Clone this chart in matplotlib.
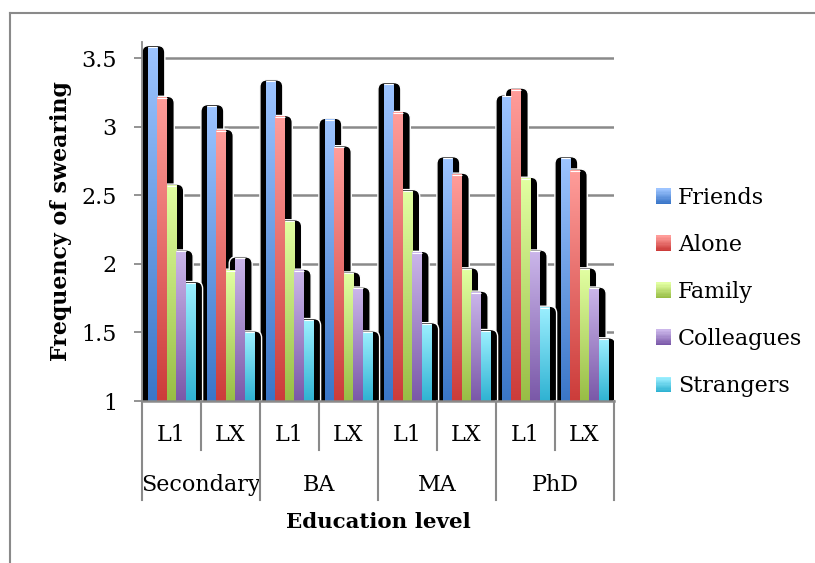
import numpy as np
import matplotlib
matplotlib.use("Agg")
import matplotlib.pyplot as plt
from matplotlib.patches import FancyBboxPatch, Rectangle
from matplotlib.colors import LinearSegmentedColormap
from matplotlib.legend_handler import HandlerBase
from matplotlib.lines import Line2D
import matplotlib.transforms as mtransforms

# ---- data ----
levels = ["Secondary", "BA", "MA", "PhD"]
langs = ["L1", "LX"]
series = ["Friends", "Alone", "Family", "Colleagues", "Strangers"]

friends    = [3.58, 3.15, 3.33, 3.05, 3.31, 2.77, 3.22, 2.77]
alone      = [3.21, 2.97, 3.07, 2.85, 3.10, 2.65, 3.27, 2.68]
family     = [2.57, 1.95, 2.31, 1.93, 2.53, 1.96, 2.62, 1.96]
colleagues = [2.09, 2.04, 1.95, 1.82, 2.08, 1.79, 2.09, 1.82]
strangers  = [1.86, 1.50, 1.59, 1.50, 1.56, 1.51, 1.68, 1.45]
values = [friends, alone, family, colleagues, strangers]

yticks = [1, 1.5, 2, 2.5, 3, 3.5]
ytick_labels = ["1", "1.5", "2", "2.5", "3", "3.5"]

# gradient colours (top, bottom) per series
grad_top = ["#9dc4ff", "#ff9d9a", "#e2ffa2", "#cbb6ea", "#9cefff"]
grad_bot = ["#3a76c8", "#cc3c3a", "#98bd45", "#7a58a8", "#2fb2d2"]

FONT = "DejaVu Serif"
plt.rcParams["font.family"] = FONT

W, H = 815, 563
fig = plt.figure(figsize=(W / 100, H / 100), dpi=100)

# plot area in pixels
px_left, px_right, px_axis, px_top = 142, 614, 401, 41.5
ax = fig.add_axes([px_left / W, (H - px_axis) / H,
                   (px_right - px_left) / W, (px_axis - px_top) / H])

ymin = 1.0
ymax = 1.0 + (px_axis - px_top) / 137.2
ncat = len(levels) * len(langs)
ax.set_xlim(-0.5, ncat - 0.5)
ax.set_ylim(ymin, ymax)

# gridlines
for t in yticks[1:]:
    ax.axhline(t, color="#8a8a8a", lw=1.8, zorder=1)

bw = 0.16
x = np.arange(ncat)
xpix = (px_right - px_left) / ncat          # pixels per x unit
ypix = 137.2                                 # pixels per y unit
aspect = xpix / ypix

# bar geometry through matplotlib's bar()
containers = []
for i, vals in enumerate(values):
    bc = ax.bar(x + (i - 2) * bw, np.array(vals) - ymin, bw, bottom=ymin,
                align="center", facecolor="none", edgecolor="none", zorder=5)
    containers.append(bc)

# black rounded shadows behind all bars
lext, rext, text_ = 6 / xpix, 7.5 / xpix, 1.5 / ypix
rad = 7 / xpix
for i, bc in enumerate(containers):
    for p in bc.patches:
        x0, w, h = p.get_x(), p.get_width(), p.get_height()
        top = ymin + h
        sh = FancyBboxPatch((x0 - lext, ymin - 0.2), w + lext + rext,
                            top + text_ - (ymin - 0.2),
                            boxstyle=f"round,pad=0,rounding_size={rad}",
                            mutation_aspect=aspect,
                            facecolor="black", edgecolor="white", lw=1.0,
                            zorder=3 + i * 0.01, clip_on=True)
        ax.add_patch(sh)

# gradient fills
grad = np.linspace(0, 1, 256).reshape(-1, 1)
for i, bc in enumerate(containers):
    cmap = LinearSegmentedColormap.from_list(series[i], [grad_bot[i], grad_top[i]])
    for p in bc.patches:
        x0, w, h = p.get_x(), p.get_width(), p.get_height()
        ax.imshow(grad, extent=[x0, x0 + w, ymin, ymin + h], origin="lower",
                  cmap=cmap, aspect="auto", interpolation="bilinear", zorder=6)
        ax.plot([x0, x0 + w], [ymin + h, ymin + h], color="white", lw=0.8,
                zorder=7, solid_capstyle="butt")

ax.set_xlim(-0.5, ncat - 0.5)
ax.set_ylim(ymin, ymax)

# axes styling
for s in ["top", "right"]:
    ax.spines[s].set_visible(False)
ax.spines["left"].set_color("#8a8a8a")
ax.spines["left"].set_linewidth(1.3)
ax.spines["bottom"].set_color("#8a8a8a")
ax.spines["bottom"].set_linewidth(1.8)
ax.spines["left"].set_zorder(8)
ax.spines["bottom"].set_zorder(8)
ax.set_yticks(yticks)
ax.set_yticklabels(ytick_labels)
ax.tick_params(axis="y", length=6, width=1.3, color="#8a8a8a", pad=12,
               labelsize=16)
ax.set_xticks([])

# multi-level category axis
ax_h = px_axis - px_top
def ay(py):
    return (px_axis - py) / ax_h

trans = mtransforms.blended_transform_factory(ax.transData, ax.transAxes)
for k in range(ncat):
    ax.text(x[k], ay(435), langs[k % 2], transform=trans, ha="center",
            va="center", fontsize=16, clip_on=False)
for g, name in enumerate(levels):
    ax.text(2 * g + 0.5, ay(485), name, transform=trans, ha="center",
            va="center", fontsize=16, clip_on=False)
for k in range(ncat + 1):
    xb = k - 0.5
    y1 = ay(500) if k % 2 == 0 else ay(450)
    ax.plot([xb, xb], [0, y1], transform=trans, color="#8a8a8a", lw=1.5,
            clip_on=False, zorder=8)

fig.text(378 / W, 1 - 522 / H, "Education level", ha="center", va="center",
         fontsize=15.4, fontweight="bold")
fig.text(61 / W, 1 - 221 / H, "Frequency of swearing", ha="center",
         va="center", rotation=90, fontsize=15.9, fontweight="bold")


# legend with gradient swatches
class GradSwatch:
    def __init__(self, top, bot):
        self.top, self.bot = top, bot


class GradHandler(HandlerBase):
    def create_artists(self, legend, h, xd, yd, width, height, fontsize, trans):
        cm = LinearSegmentedColormap.from_list("g", [h.bot, h.top])
        n = 12
        arts = []
        for k in range(n):
            r = Rectangle((-xd, -yd + height * k / n), width, height / n + 0.3,
                          facecolor=cm(k / (n - 1)), edgecolor="none",
                          transform=trans)
            arts.append(r)
        return arts


handles = [GradSwatch(t, b) for t, b in zip(grad_top, grad_bot)]
fig.legend(handles, series, handler_map={GradSwatch: GradHandler()},
           loc="upper left", bbox_to_anchor=(656 / W, 1 - 187 / H),
           frameon=False, fontsize=16, handlelength=0.68, handleheight=0.68,
           handletextpad=0.3, labelspacing=1.13, borderaxespad=0,
           borderpad=0)

# outer chart frame
fig.add_artist(Line2D([10 / W, 10 / W], [0, 1 - 13 / H], color="#8a8a8a",
                      lw=1.5, transform=fig.transFigure))
fig.add_artist(Line2D([10 / W, 1], [1 - 13 / H, 1 - 13 / H], color="#8a8a8a",
                      lw=1.5, transform=fig.transFigure))

fig.savefig("out.png", dpi=100)
